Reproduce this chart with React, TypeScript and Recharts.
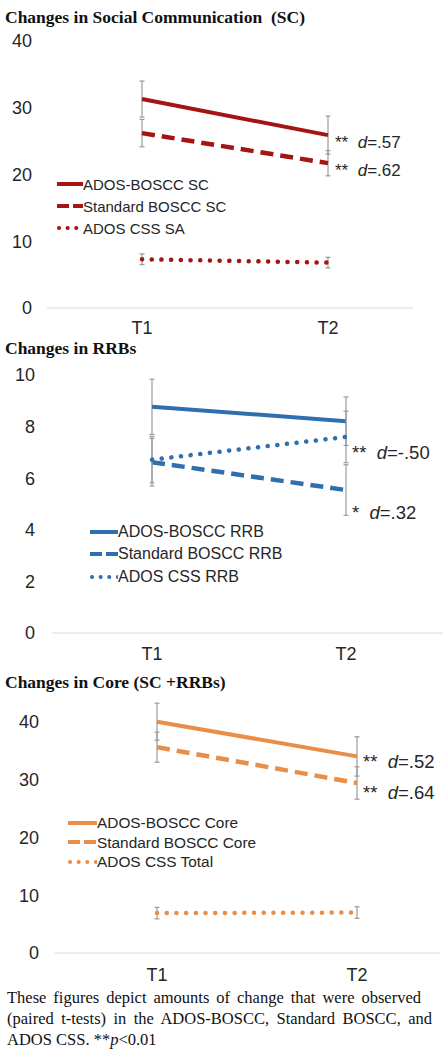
import React from 'react';
import { LineChart, Line, XAxis, YAxis, ErrorBar, Legend } from 'recharts';

const categories = ['T1', 'T2'];

// Social Communication
const scNames = ['ADOS-BOSCC SC', 'Standard BOSCC SC', 'ADOS CSS SA'];
const scAdosBoscc = [31.3, 25.9];
const scAdosBosccErr = [2.7, 2.85];
const scStandard = [26.2, 21.7];
const scStandardErr = [2.05, 1.9];
const scCss = [7.3, 6.8];
const scCssErr = [0.8, 0.8];
const scTicks = [0, 10, 20, 30, 40];
const scStars = ['**', '**'];
const scEffects = ['=.57', '=.62'];

// RRBs
const rrbNames = ['ADOS-BOSCC RRB', 'Standard BOSCC RRB', 'ADOS CSS RRB'];
const rrbAdosBoscc = [8.77, 8.21];
const rrbAdosBosccErr = [1.07, 0.94];
const rrbStandard = [6.62, 5.54];
const rrbStandardErr = [0.92, 0.98];
const rrbCss = [6.72, 7.6];
const rrbCssErr = [0.9, 1.0];
const rrbTicks = [0, 2, 4, 6, 8, 10];
const rrbStars = ['**', '*'];
const rrbEffects = ['=-.50', '=.32'];

// Core
const coreNames = ['ADOS-BOSCC Core', 'Standard BOSCC Core', 'ADOS CSS Total'];
const coreAdosBoscc = [40.0, 34.0];
const coreAdosBosccErr = [3.2, 3.4];
const coreStandard = [35.6, 29.4];
const coreStandardErr = [2.6, 2.8];
const coreCss = [6.9, 7.0];
const coreCssErr = [1.0, 1.0];
const coreTicks = [0, 10, 20, 30, 40];
const coreStars = ['**', '**'];
const coreEffects = ['=.52', '=.64'];

const titles = ['Changes in Social Communication\u00a0 (SC)', 'Changes in RRBs', 'Changes in Core (SC +RRBs)'];

const RED = '#a51414';
const BLUE = '#2f6fad';
const ORANGE = '#e98e48';

const build = (a: number[], ae: number[], b: number[], be: number[], c: number[], ce: number[]) =>
  categories.map((cat, i) => ({ cat, a: a[i], aErr: ae[i], b: b[i], bErr: be[i], c: c[i], cErr: ce[i] }));

const scData = build(scAdosBoscc, scAdosBosccErr, scStandard, scStandardErr, scCss, scCssErr);
const rrbData = build(rrbAdosBoscc, rrbAdosBosccErr, rrbStandard, rrbStandardErr, rrbCss, rrbCssErr);
const coreData = build(coreAdosBoscc, coreAdosBosccErr, coreStandard, coreStandardErr, coreCss, coreCssErr);

const DASH = '13 7';
const DOT = '0.1 9.6';

type PanelProps = {
  top: number;
  data: any[];
  names: string[];
  color: string;
  ticks: number[];
  domainMax: number;
  height: number;
  margin: { top: number; right: number; left: number; bottom: number };
  yWidth: number;
  padL: number;
  padR: number;
  yTickMargin: number;
  xTickMargin: number;
  legendLeft: number;
  legendTop: number;
  legendRow: number;
  legendSample: number;
  legendFont: number;
  stars: string[];
  effects: string[];
  effLeft: number;
  effY: number[];
  effFont: number;
};

const Panel = (p: PanelProps) => {
  const styles = [undefined, DASH, DOT];
  const legendContent = () => (
    <div style={{ fontFamily: '"Liberation Sans", Arial, sans-serif' }}>
      {p.names.map((n, i) => (
        <div key={n} style={{ display: 'flex', alignItems: 'center', height: p.legendRow }}>
          <svg width={p.legendSample} height={10} style={{ display: 'block' }}>
            <line
              x1={i === 2 ? 2 : 0}
              y1={5}
              x2={p.legendSample}
              y2={5}
              stroke={p.color}
              strokeWidth={4}
              strokeDasharray={i === 1 ? '12 4' : i === 2 ? '0.1 8.5' : undefined}
              strokeLinecap={i === 2 ? 'round' : 'butt'}
            />
          </svg>
          <span style={{ fontSize: p.legendFont, color: '#262626', lineHeight: 1, whiteSpace: 'nowrap' }}>{n}</span>
        </div>
      ))}
    </div>
  );
  const tickStyle = { fontSize: 18, fill: '#262626', fontFamily: '"Liberation Sans", Arial, sans-serif' };
  const keys = ['a', 'b', 'c'];
  return (
    <div style={{ position: 'absolute', left: 0, top: p.top, width: 446, height: p.height }}>
      <LineChart width={446} height={p.height} data={p.data} margin={p.margin}>
        <XAxis
          dataKey="cat"
          padding={{ left: p.padL, right: p.padR }}
          tickLine={false}
          tickSize={0}
          tickMargin={p.xTickMargin}
          axisLine={{ stroke: '#d9d9d9', strokeWidth: 1 }}
          tick={tickStyle}
          height={37}
          interval={0}
        />
        <YAxis
          domain={[p.ticks[0], p.domainMax]}
          ticks={p.ticks}
          axisLine={false}
          tickLine={false}
          tickSize={0}
          tickMargin={p.yTickMargin}
          width={p.yWidth}
          tick={tickStyle}
        />
        <Legend
          content={legendContent}
          layout="vertical"
          verticalAlign="middle"
          align="center"
          wrapperStyle={{ left: p.legendLeft, top: p.legendTop, width: 'auto', height: 'auto' }}
        />
        {keys.map((k, i) => (
          <Line
            key={k}
            dataKey={k}
            name={p.names[i]}
            stroke={p.color}
            strokeWidth={i === 0 ? 4 : 4.5}
            strokeDasharray={styles[i]}
            strokeLinecap={i === 2 ? 'round' : 'butt'}
            dot={false}
            activeDot={false}
            isAnimationActive={false}
          >
            <ErrorBar dataKey={k + 'Err'} width={2.5} stroke="#9a9a9a" strokeWidth={1.2} direction="y" />
          </Line>
        ))}
      </LineChart>
      {p.stars.map((s, i) => (
        <div
          key={i}
          style={{
            position: 'absolute',
            left: p.effLeft,
            top: p.effY[i] - p.effFont * 0.6,
            fontSize: p.effFont,
            lineHeight: 1.2,
            color: '#262626',
            fontFamily: '"Liberation Sans", Arial, sans-serif',
            whiteSpace: 'nowrap',
          }}
        >
          {s}&nbsp;&nbsp;<i>d</i>
          {p.effects[i]}
        </div>
      ))}
    </div>
  );
};

const titleStyle = (y: number): React.CSSProperties => ({
  position: 'absolute',
  left: 5,
  top: y - 10,
  fontFamily: '"Liberation Serif", "Times New Roman", serif',
  fontWeight: 'bold',
  fontSize: 17.5,
  lineHeight: '20px',
  color: '#111',
  whiteSpace: 'nowrap',
});

export default function App() {
  return (
    <div style={{ position: 'absolute', left: 0, top: 0, width: 446, height: 1050, background: '#fff', overflow: 'hidden' }}>
      <div style={titleStyle(17)}>{titles[0]}</div>
      <div style={titleStyle(348)}>{titles[1]}</div>
      <div style={titleStyle(682)}>{titles[2]}</div>

      <Panel
        top={0}
        data={scData}
        names={scNames}
        color={RED}
        ticks={scTicks}
        domainMax={40}
        height={345}
        margin={{ top: 41, right: 33, left: 0, bottom: 0 }}
        yWidth={47}
        padL={95}
        padR={85}
        yTickMargin={15}
        xTickMargin={13}
        legendLeft={57}
        legendTop={173}
        legendRow={22}
        legendSample={26}
        legendFont={15}
        stars={scStars}
        effects={scEffects}
        effLeft={335}
        effY={[143, 171]}
        effFont={17}
      />
      <Panel
        top={340}
        data={rrbData}
        names={rrbNames}
        color={BLUE}
        ticks={rrbTicks}
        domainMax={10}
        height={330}
        margin={{ top: 35, right: 3, left: 0, bottom: 0 }}
        yWidth={52}
        padL={100}
        padR={97}
        yTickMargin={17}
        xTickMargin={14}
        legendLeft={90}
        legendTop={181}
        legendRow={22.3}
        legendSample={28}
        legendFont={16}
        stars={rrbStars}
        effects={rrbEffects}
        effLeft={352}
        effY={[113, 173]}
        effFont={18.5}
      />
      <Panel
        top={680}
        data={coreData}
        names={coreNames}
        color={ORANGE}
        ticks={coreTicks}
        domainMax={45}
        height={310}
        margin={{ top: 12.8, right: 6, left: 0, bottom: 0 }}
        yWidth={55}
        padL={102}
        padR={83}
        yTickMargin={16}
        xTickMargin={15}
        legendLeft={68}
        legendTop={133}
        legendRow={19.5}
        legendSample={29}
        legendFont={15.4}
        stars={coreStars}
        effects={coreEffects}
        effLeft={363}
        effY={[82, 113]}
        effFont={18.5}
      />

      <div
        style={{
          position: 'absolute',
          left: 7,
          top: 987,
          width: 425,
          fontFamily: '"Liberation Serif", "Times New Roman", serif',
          fontSize: 16.5,
          lineHeight: '21px',
          color: '#111',
        }}
      >
        <div style={{ textAlign: 'justify', textAlignLast: 'justify', width: 414 }}>
          These figures depict amounts of change that were observed
        </div>
        <div style={{ textAlign: 'justify', textAlignLast: 'justify' }}>
          (paired t-tests) in the ADOS-BOSCC, Standard BOSCC, and
        </div>
        <div>
          ADOS CSS. **<i>p</i>&lt;0.01
        </div>
      </div>
    </div>
  );
}
